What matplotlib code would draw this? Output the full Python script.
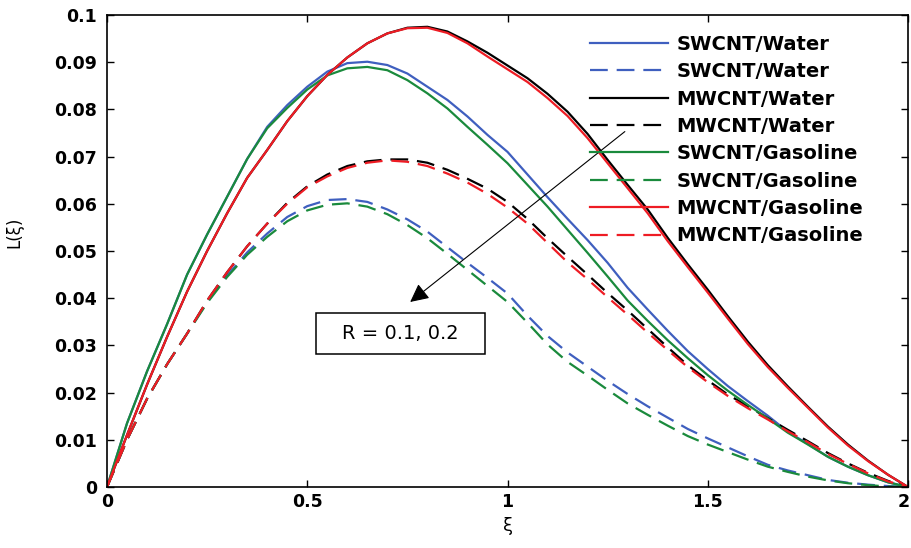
import matplotlib
matplotlib.use("Agg")
import matplotlib.pyplot as plt
import matplotlib.transforms as mtransforms
from matplotlib.patches import Rectangle

xi = [0.00, 0.05, 0.10, 0.15, 0.20, 0.25, 0.30, 0.35, 0.40, 0.45,
      0.50, 0.55, 0.60, 0.65, 0.70, 0.75, 0.80, 0.85, 0.90, 0.95,
      1.00, 1.05, 1.10, 1.15, 1.20, 1.25, 1.30, 1.35, 1.40, 1.45,
      1.50, 1.55, 1.60, 1.65, 1.70, 1.75, 1.80, 1.85, 1.90, 1.95, 2.00]

# SWCNT/Water, R = 0.1 (solid) and R = 0.2 (dashed)
sw_water_1 = [0, 0.0135, 0.0245, 0.0345, 0.0450, 0.0535, 0.0615, 0.0695, 0.0763, 0.0809,
              0.0848, 0.0880, 0.0898, 0.0901, 0.0894, 0.0876, 0.0848, 0.0820, 0.0785, 0.0746,
              0.0710, 0.0662, 0.0614, 0.0568, 0.0523, 0.0475, 0.0422, 0.0376, 0.0331, 0.0288,
              0.0250, 0.0214, 0.0182, 0.0151, 0.0117, 0.0091, 0.0064, 0.0043, 0.0025, 0.0010, 0]
sw_water_2 = [0, 0.0100, 0.0187, 0.0260, 0.0325, 0.0392, 0.0448, 0.0497, 0.0537, 0.0572,
              0.0595, 0.0608, 0.0610, 0.0604, 0.0588, 0.0567, 0.0541, 0.0508, 0.0475, 0.0443,
              0.0410, 0.0363, 0.0320, 0.0285, 0.0255, 0.0225, 0.0197, 0.0171, 0.0147, 0.0123,
              0.0103, 0.0084, 0.0065, 0.0047, 0.0035, 0.0025, 0.0015, 0.0009, 0.0005, 0.0002, 0]
# MWCNT/Water
mw_water_1 = [0, 0.0110, 0.0217, 0.0318, 0.0414, 0.0500, 0.0580, 0.0655, 0.0714, 0.0775,
              0.0828, 0.0873, 0.0910, 0.0940, 0.0961, 0.0973, 0.0975, 0.0965, 0.0944, 0.0920,
              0.0893, 0.0866, 0.0833, 0.0795, 0.0748, 0.0693, 0.0640, 0.0588, 0.0528, 0.0472,
              0.0418, 0.0362, 0.0308, 0.0258, 0.0213, 0.0170, 0.0128, 0.0090, 0.0056, 0.0026, 0]
mw_water_2 = [0, 0.0100, 0.0187, 0.0260, 0.0325, 0.0395, 0.0455, 0.0510, 0.0558, 0.0602,
              0.0637, 0.0662, 0.0680, 0.0690, 0.0694, 0.0694, 0.0687, 0.0672, 0.0653, 0.0632,
              0.0604, 0.0568, 0.0527, 0.0488, 0.0450, 0.0411, 0.0374, 0.0335, 0.0296, 0.0258,
              0.0226, 0.0196, 0.0171, 0.0146, 0.0121, 0.0097, 0.0072, 0.0050, 0.0030, 0.0013, 0]
# SWCNT/Gasoline
sw_gas_1 = [0, 0.0135, 0.0245, 0.0345, 0.0450, 0.0535, 0.0615, 0.0695, 0.0760, 0.0803,
            0.0842, 0.0872, 0.0887, 0.0890, 0.0883, 0.0862, 0.0834, 0.0802, 0.0763, 0.0725,
            0.0686, 0.0640, 0.0594, 0.0545, 0.0496, 0.0446, 0.0395, 0.0352, 0.0311, 0.0273,
            0.0237, 0.0204, 0.0174, 0.0145, 0.0115, 0.0090, 0.0064, 0.0043, 0.0025, 0.0010, 0]
sw_gas_2 = [0, 0.0100, 0.0187, 0.0260, 0.0325, 0.0390, 0.0445, 0.0492, 0.0530, 0.0563,
            0.0586, 0.0598, 0.0601, 0.0594, 0.0578, 0.0555, 0.0527, 0.0494, 0.0460, 0.0426,
            0.0392, 0.0348, 0.0302, 0.0265, 0.0236, 0.0206, 0.0177, 0.0153, 0.0130, 0.0108,
            0.0090, 0.0074, 0.0058, 0.0043, 0.0032, 0.0022, 0.0014, 0.0008, 0.0004, 0.0001, 0]
# MWCNT/Gasoline
mw_gas_1 = [0, 0.0110, 0.0217, 0.0318, 0.0414, 0.0500, 0.0580, 0.0655, 0.0714, 0.0775,
            0.0828, 0.0873, 0.0910, 0.0940, 0.0961, 0.0972, 0.0973, 0.0962, 0.0940, 0.0912,
            0.0885, 0.0858, 0.0824, 0.0786, 0.0739, 0.0686, 0.0633, 0.0580, 0.0521, 0.0466,
            0.0412, 0.0357, 0.0303, 0.0254, 0.0210, 0.0168, 0.0126, 0.0088, 0.0055, 0.0026, 0]
mw_gas_2 = [0, 0.0100, 0.0187, 0.0260, 0.0325, 0.0395, 0.0455, 0.0510, 0.0558, 0.0600,
            0.0635, 0.0658, 0.0676, 0.0687, 0.0692, 0.0689, 0.0680, 0.0664, 0.0645, 0.0621,
            0.0592, 0.0558, 0.0517, 0.0476, 0.0440, 0.0402, 0.0365, 0.0327, 0.0290, 0.0254,
            0.0222, 0.0193, 0.0167, 0.0143, 0.0118, 0.0095, 0.0070, 0.0049, 0.0029, 0.0012, 0]

labels = ["SWCNT/Water", "SWCNT/Water", "MWCNT/Water", "MWCNT/Water",
          "SWCNT/Gasoline", "SWCNT/Gasoline", "MWCNT/Gasoline", "MWCNT/Gasoline"]
series = [sw_water_1, sw_water_2, mw_water_1, mw_water_2,
          sw_gas_1, sw_gas_2, mw_gas_1, mw_gas_2]
colors = ["#3f5fbf", "#3f5fbf", "#000000", "#000000",
          "#1a8a3c", "#1a8a3c", "#ee1c24", "#ee1c24"]
styles = ["-", "--", "-", "--", "-", "--", "-", "--"]

xticks = [0, 0.5, 1, 1.5, 2]
xticklabels = ["0", "0.5", "1", "1.5", "2"]
yticks = [0, 0.01, 0.02, 0.03, 0.04, 0.05, 0.06, 0.07, 0.08, 0.09, 0.1]
yticklabels = ["0", "0.01", "0.02", "0.03", "0.04", "0.05", "0.06", "0.07", "0.08", "0.09", "0.1"]

fig = plt.figure(figsize=(9.11, 5.48), dpi=100)
ax = fig.add_axes([107/911, 1 - 487/548, (908-107)/911, (487-15)/548])

for y, lab, c, ls in zip(series, labels, colors, styles):
    line, = ax.plot(xi, y, color=c, linestyle=ls, lw=1.6, label=lab)
    if ls == "--":
        line.set_dashes((8, 4))

ax.set_xlim(0, 2)
ax.set_ylim(0, 0.1)
ax.set_xticks(xticks)
ax.set_xticklabels(xticklabels, fontweight="bold", fontsize=12.5)
ax.set_yticks(yticks)
ax.set_yticklabels(yticklabels, fontweight="bold", fontsize=12.5)
ax.tick_params(direction="in", length=5, width=1, top=True, right=True)
ax.tick_params(axis="y", pad=7)
ax.tick_params(axis="x", pad=4)
for s in ax.spines.values():
    s.set_linewidth(1.2)

# keep the last x tick label inside the figure edge
last = ax.get_xticklabels()[-1]
last.set_transform(last.get_transform() + mtransforms.ScaledTranslation(-4/100, 0, fig.dpi_scale_trans))

ax.set_xlabel("ξ", fontsize=13)
ax.set_ylabel("L(ξ)", fontsize=12)
ax.xaxis.set_label_coords(0.5, -0.064)
ax.yaxis.set_label_coords(-0.105, 0.54)

leg = ax.legend(loc="upper left", bbox_to_anchor=(0.603, 0.958), frameon=False,
                prop={"weight": "bold", "size": 14}, handlelength=4.0,
                handletextpad=0.45, labelspacing=0.43, borderpad=0, borderaxespad=0)

ax.annotate("", xy=(0.757, 0.0392), xytext=(1.293, 0.0753),
            arrowprops=dict(arrowstyle="-|>", lw=0.8, color="k", mutation_scale=28,
                            shrinkA=0, shrinkB=0))
ax.add_patch(Rectangle((0.522, 0.0282), 0.422, 0.0087, fc="white", ec="k", lw=1.1, zorder=5))
ax.text(0.733, 0.03255, "R = 0.1, 0.2", ha="center", va="center", fontsize=14, zorder=6)

fig.savefig("out.png", dpi=100)
